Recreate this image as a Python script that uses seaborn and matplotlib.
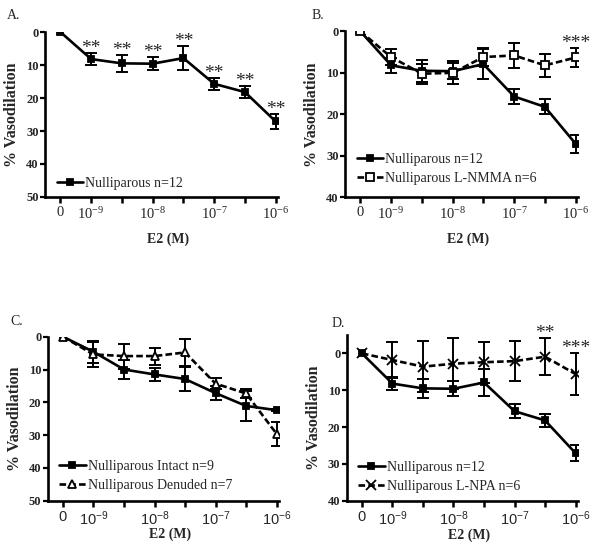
import numpy as np
import pandas as pd
import matplotlib
matplotlib.use("Agg")
import matplotlib.pyplot as plt
import seaborn as sns

# E2 concentrations (equally spaced categories on the x axis)
doses = ["0", "1e-9", "3e-9", "1e-8", "3e-8", "1e-7", "3e-7", "1e-6"]
tick_labels = ["0", r"$\mathregular{10^{-9}}$", "", r"$\mathregular{10^{-8}}$", "",
               r"$\mathregular{10^{-7}}$", "", r"$\mathregular{10^{-6}}$"]

# % vasodilation (mean, SEM)
nulli_mean = [0, 8.2, 9.5, 9.6, 7.9, 15.7, 18.2, 27.1]
nulli_sem = [0, 1.8, 2.6, 2.0, 3.6, 1.9, 1.8, 2.2]
lnmma_mean = [0, 6.2, 10.2, 10.0, 6.2, 5.8, 8.2, 6.3]
lnmma_sem = [0, 2.0, 2.4, 2.8, 2.2, 3.0, 2.8, 2.4]
intact_mean = [0, 4.6, 10.0, 11.5, 12.9, 17.2, 21.1, 22.4]
intact_sem = [0, 3.3, 2.9, 2.1, 3.8, 2.2, 4.5, 0.3]
denuded_mean = [0, 5.4, 5.9, 5.9, 4.8, 14.3, 17.3, 29.6]
denuded_sem = [0, 3.7, 3.8, 2.6, 4.2, 1.6, 1.4, 3.6]
lnpa_mean = [0, 1.8, 3.6, 2.8, 2.4, 2.1, 0.9, 5.6]
lnpa_sem = [0, 4.9, 7.0, 6.9, 5.6, 5.4, 5.1, 5.6]

# significance marks: (dose index, stars)
stars_a = [(1, "**"), (2, "**"), (3, "**"), (4, "**"), (5, "**"), (6, "**"), (7, "**")]
stars_b = [(7, "***")]
stars_d = [(6, "**"), (7, "***")]

sns.set_theme(style="ticks")
plt.rcParams["font.family"] = ["Liberation Serif", "DejaVu Serif"]

SERIF = "Liberation Serif"
SANS = "Liberation Sans"
DASH = (0, (2.5, 1.2))

fig = plt.figure(figsize=(6, 5.56), dpi=100)


def draw_panel(ax, series, ylim, yticks, tick_font, legend_anchor, xlabel_y, ylabel_x,
               stars=None, star_src=None):
    pos = np.arange(len(doses))
    for s in series:
        mean = np.array(s["mean"])
        sem = np.array(s["sem"])
        keep = sem > 0
        ax.errorbar(pos[keep], mean[keep], yerr=sem[keep], fmt="none", ecolor="black",
                    elinewidth=1.4, capsize=4, capthick=1.4, zorder=2)
    for s in series:
        df = pd.DataFrame({"dose": pos, "vaso": s["mean"]})
        sns.lineplot(data=df, x="dose", y="vaso", ax=ax, color="black", lw=1.9,
                     linestyle=s["ls"], marker=s["marker"], markersize=s["ms"],
                     markerfacecolor=s["mfc"], markeredgecolor="black",
                     markeredgewidth=1.3, label=s["label"], errorbar=None, zorder=3)
    if stars:
        m, e = star_src
        for i, st in stars:
            ax.text(i, m[i] - e[i], st, ha="center", va="baseline",
                    fontsize=14, family=SERIF)

    ax.set_xlim(-0.5, 7.07)
    ax.set_ylim(*ylim)
    ax.set_xticks(pos)
    ax.set_xticklabels(tick_labels, fontsize=10.5, family=tick_font)
    ax.set_yticks(yticks)
    ax.set_yticklabels([str(v) for v in yticks], fontsize=9, fontweight="bold", family=SERIF)
    ax.tick_params(axis="x", length=4.5, width=1.8, pad=2, color="black")
    ax.tick_params(axis="y", length=3.5, width=1.6, pad=1, color="black")
    sns.despine(ax=ax)
    for sp in ["left", "bottom"]:
        ax.spines[sp].set_linewidth(1.9)
        ax.spines[sp].set_color("black")
    ax.grid(False)

    ax.set_xlabel("E2 (M)", fontsize=10, fontweight="bold", family=SERIF, va="center")
    ax.xaxis.set_label_coords(0.53, xlabel_y)
    ax.set_ylabel("% Vasodilation", fontsize=11.5, fontweight="bold", family=SERIF, va="center")
    ax.yaxis.set_label_coords(ylabel_x, 0.5)

    ax.legend(loc="lower left", bbox_to_anchor=legend_anchor, frameon=False,
              prop={"family": SERIF, "size": 10}, handlelength=1.9, handletextpad=0.15,
              labelspacing=0.4, borderpad=0, borderaxespad=0)


nulli = dict(mean=nulli_mean, sem=nulli_sem, ls="-", marker="s", ms=5, mfc="black",
             label="Nulliparous n=12")

# A
ax_a = fig.add_axes([0.075, 0.6457, 0.388, 0.2967])
draw_panel(ax_a, [nulli], (50, 0), [0, 10, 20, 30, 40, 50], SERIF, (0.05, 0.042),
           -0.255, -0.14, stars_a, (nulli_mean, nulli_sem))

# B
ax_b = fig.add_axes([0.575, 0.6451, 0.388, 0.2985])
draw_panel(ax_b, [nulli,
                  dict(mean=lnmma_mean, sem=lnmma_sem, ls=DASH, marker="s", ms=5.5, mfc="white",
                       label="Nulliparous L-NMMA n=6")],
           (40, 0), [0, 10, 20, 30, 40], SERIF, (0.05, 0.075), -0.253, -0.142,
           stars_b, (lnmma_mean, lnmma_sem))

# C
ax_c = fig.add_axes([0.0795, 0.0995, 0.385, 0.2949])
draw_panel(ax_c, [dict(mean=intact_mean, sem=intact_sem, ls="-", marker="s", ms=5, mfc="black",
                       label="Nulliparous Intact n=9"),
                  dict(mean=denuded_mean, sem=denuded_sem, ls=DASH, marker="^", ms=6, mfc="white",
                       label="Nulliparous Denuded n=7")],
           (50, 0), [0, 10, 20, 30, 40, 50], SANS, (0.05, 0.055), -0.207, -0.14)

# D
ax_d = fig.add_axes([0.5778, 0.0995, 0.385, 0.298])
draw_panel(ax_d, [nulli,
                  dict(mean=lnpa_mean, sem=lnpa_sem, ls=DASH, marker="x", ms=7, mfc="black",
                       label="Nulliparous L-NPA n=6")],
           (40, -5), [0, 10, 20, 30, 40], SANS, (0.05, 0.048), -0.207, -0.14,
           stars_d, (lnpa_mean, lnpa_sem))

for label, x, y in [("A.", 0.012, 0.973), ("B.", 0.52, 0.973), ("C.", 0.018, 0.421), ("D.", 0.553, 0.419)]:
    fig.text(x, y, label, fontsize=10, family=SERIF, va="center")

fig.savefig("out.png", dpi=100)
